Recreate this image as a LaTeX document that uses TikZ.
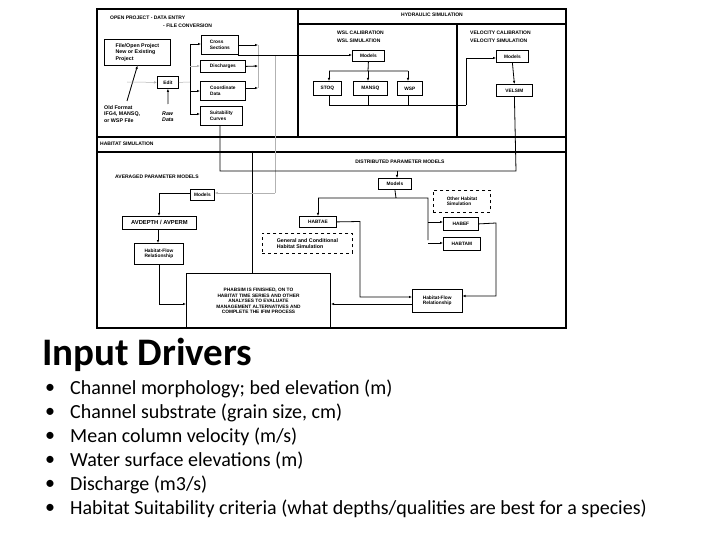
\documentclass[tikz,border=0pt]{standalone}
\usepackage{fontspec}
\setmainfont{Carlito}
\newfontfamily\arialf{Liberation Sans}
\usetikzlibrary{arrows.meta}
\begin{document}
\begin{tikzpicture}[x=1pt,y=-1pt,
  bx/.style={draw,line width=0.8pt,inner sep=1pt,font=\arialf\bfseries\fontsize{4.8}{5.6}\selectfont,align=left,anchor=north west},
  dbx/.style={bx,dashed,line width=0.9pt},
  lab/.style={font=\arialf\bfseries\fontsize{5}{6}\selectfont,align=left,inner sep=0pt,anchor=west},
  ln/.style={line width=0.8pt},
  gl/.style={line width=0.5pt,gray!60},
  ar/.style={ln,-{Latex[length=3pt,width=2.5pt]}},
  gar/.style={gl,-{Latex[length=3pt,width=2.5pt]}},
  bul/.style={font=\fontsize{20}{22}\selectfont,anchor=west,inner sep=0pt}]
\useasboundingbox (0,0) rectangle (720,540);
% frame
\draw[line width=1.3pt] (97,9) rectangle (566,328);
\draw[line width=1.1pt] (298,9) -- (298,137) (298,24) -- (566,24) (457,24) -- (457,137)
  (97,137) -- (566,137) (97,152) -- (566,152);
\node[lab] (t1) at (110,18) {OPEN PROJECT - DATA ENTRY};
\node[lab] (t2) at (163,26) {- FILE CONVERSION};
\node[lab,anchor=center] (t3) at (432,15) {HYDRAULIC SIMULATION};
\node[lab] (t4) at (337,33) {WSL CALIBRATION};
\node[lab] (t5) at (337,41) {WSL SIMULATION};
\node[lab] (t6) at (470,33) {VELOCITY CALIBRATION};
\node[lab] (t7) at (470,41) {VELOCITY SIMULATION};
\node[lab] (t8) at (100,144) {HABITAT SIMULATION};
\node[lab,anchor=center] (t9) at (400,162) {DISTRIBUTED PARAMETER MODELS};
\node[lab] (t10) at (115,177) {AVERAGED PARAMETER MODELS};
% left panel boxes
\node[bx,minimum width=66pt,minimum height=26pt,font=\arialf\bfseries\fontsize{5.3}{6.3}\selectfont] (fo) at (104,39) {File/Open Project\\New or Existing\\Project};
\node[bx,minimum width=37pt,minimum height=19pt] (cs) at (201,35) {Cross\\Sections};
\node[bx,minimum width=45pt,minimum height=12pt] (di) at (200,60) {Discharges};
\node[bx,minimum width=21pt,minimum height=12pt] (ed) at (157,76) {Edit};
\node[bx,minimum width=45pt,minimum height=19pt] (cd) at (200,81) {Coordinate\\Data};
\node[bx,minimum width=42pt,minimum height=19pt] (sc) at (200,106) {Suitability\\Curves};
\node[lab,font=\arialf\bfseries\fontsize{5.3}{6.3}\selectfont] (of) at (104,114) {Old Format\\IFG4, MANSQ,\\or WSP File};
\node[lab,font=\arialf\bfseries\itshape\fontsize{5.3}{6.3}\selectfont] (rd) at (162,117) {Raw\\Data};
\coordinate (tr1) at (190,44); \coordinate (tr2) at (190,114);
\draw[ln] (tr1) -- (tr2);
\draw[ar] (tr1) -- (cs.west|-tr1);
\draw[gar] (190,66) -- (di.west|-0,66);
\draw[ar] (190,91) -- (cd.west|-0,91);
\draw[ar] (tr2) -- (sc.west|-tr2);
\draw[gl] (ed.east) -- (190,82);
\draw[gl] (fo.south) -- (127,101);
\draw[ar] (127,101) -- (fo.south);
\draw[gar] (127,82) -- (ed.west);
\draw[ar] (168,104) -- (ed.south);
\draw[ar] (cs.east|-0,45) -- (258,45);
\draw[ar] (di.east) -- (258,66);
\draw[ar] (cd.east|-0,88) -- (258,88);
\draw[gl] (258,45) -- (258,88);
\draw[gl] (275,55) -- (275,193);
% hydraulic
\node[bx,minimum width=32pt,minimum height=11pt] (m1) at (352,50) {Models};
\node[bx,minimum width=28pt,minimum height=14pt] (st) at (313,81) {STOQ};
\node[bx,minimum width=34pt,minimum height=14pt] (ma) at (353,81) {MANSQ};
\node[bx,minimum width=25pt,minimum height=14pt] (ws) at (397,81) {WSP};
\node[bx,minimum width=32pt,minimum height=12pt] (m2) at (496,50) {Models};
\node[bx,minimum width=36pt,minimum height=12pt] (vs) at (496,84) {VELSIM};
\draw[ar] (238,55) -- (m1.west|-0,55);
\draw[ln] (m1.south) -- (368,71) (329,71) -- (408,71);
\draw[ar] (329,71) -- (329,81);
\draw[ar] (368,71) -- (368,81);
\draw[ar] (408,71) -- (408,81);
\draw[ln] (329,95) -- (329,105) -- (466,105) (368,95) -- (368,105) (408,95) -- (408,105);
\draw[ar] (466,105) -- (466,58) -- (m2.west|-0,58);
\draw[ar] (m2.south) -- (vs.north);
\draw[ln] (vs.south) -- (516,171) -- (220,171) -- (sc.south-|220,0);
\draw[ln] (252,151) -- (252,273);
% averaged
\node[bx,minimum width=24pt,minimum height=11pt] (am) at (190,189) {Models};
\node[bx,minimum width=74pt,minimum height=13pt,font=\arialf\bfseries\fontsize{5.8}{6.5}\selectfont] (av) at (122,216) {AVDEPTH / AVPERM};
\node[bx,minimum width=49pt,minimum height=21pt,align=center] (hf1) at (134,243) {Habitat-Flow\\Relationship};
\draw[gar] (275,193) -- (am.east|-0,193);
\draw[ar] (am.west|-0,193) -- (159,193) -- (159,216);
\draw[ar] (158,229) -- (158,243);
\node[bx,minimum width=144pt,minimum height=55pt,align=center,line width=1pt] (ph) at (186,273) {PHABSIM IS FINISHED, ON TO\\HABITAT TIME SERIES AND OTHER\\ANALYSES TO EVALUATE\\MANAGEMENT ALTERNATIVES AND\\COMPLETE THE IFIM PROCESS};
\draw[ar] (159,264) -- (159,304) -- (ph.west|-0,304);
% distributed
\node[bx,minimum width=33pt,minimum height=11pt] (dm) at (378,178) {Models};
\draw[ar] (397,171) -- (397,178);
\node[dbx,minimum width=57pt,minimum height=22pt] (oh) at (433,190) {Other Habitat\\Simulation};
\node[bx,minimum width=37pt,minimum height=11pt] (ht) at (299,216) {HABTAE};
\node[bx,minimum width=35pt,minimum height=13pt] (he) at (443,217) {HABEF};
\node[bx,minimum width=37pt,minimum height=13pt] (hm) at (443,237) {HABTAM};
\node[dbx,minimum width=90pt,minimum height=20pt,font=\arialf\bfseries\fontsize{5.3}{6.3}\selectfont] (gc) at (262,233) {General and Conditional\\Habitat Simulation};
\node[bx,minimum width=50pt,minimum height=23pt,line width=0.5pt] (hf2) at (412,289) {Habitat-Flow\\Relationship};
\draw[ln] (dm.south) -- (396,198) (318,198) -- (428,198) -- (428,240);
\draw[ar] (318,198) -- (318,216);
\draw[ar] (428,222) -- (he.west|-0,222);
\draw[ar] (428,243) -- (hm.west|-0,243);
\draw[ar] (ht.east) -- (360,221.5) -- (360,297) -- (hf2.west|-0,297);
\draw[ar] (he.east) -- (496,223) -- (496,296) -- (hf2.east|-0,296);
\draw[ar] (hf2.west|-0,304) -- (ph.east|-0,304);
% text
\node[anchor=west,inner sep=0pt,font=\bfseries\fontsize{39}{42}\selectfont] (id) at (42,355) {Input Drivers};
\foreach \y/\t [count=\i] in {389/{Channel morphology; bed elevation (m)},413/{Channel substrate (grain size, cm)},437/{Mean column velocity (m/s)},461/{Water surface elevations (m)},485/{Discharge (m3/s)},509/{Habitat Suitability criteria (what depths/qualities are best for a species)}}{
  \node[bul] (b\i) at (45,\y) {•};
  \node[bul] (l\i) at (70,\y) {\t};
}
\end{tikzpicture}
\end{document}
